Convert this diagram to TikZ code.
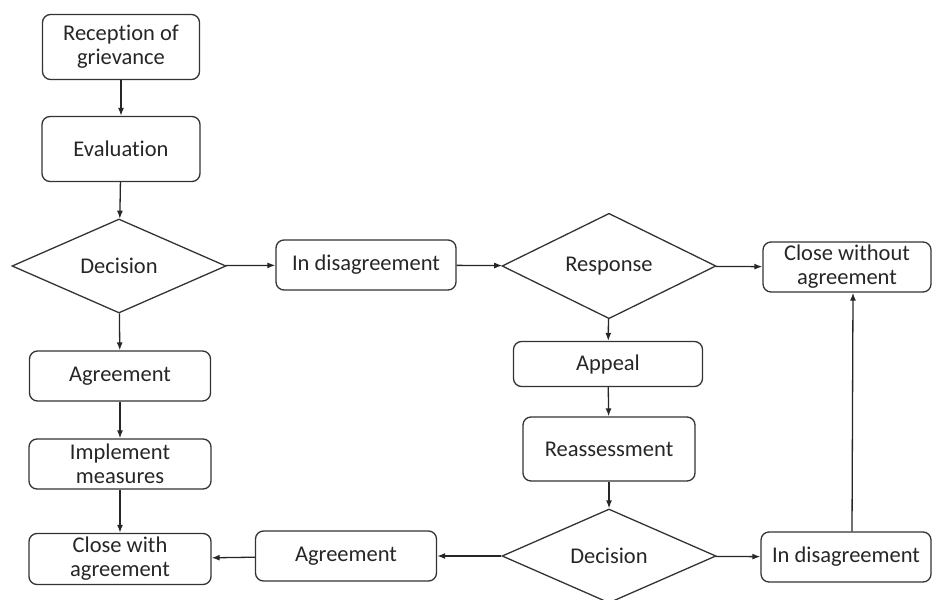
\documentclass[tikz,border=0pt]{standalone}
\usepackage{fontspec}
\setmainfont{Carlito}[Ligatures=NoCommon]
\usetikzlibrary{shapes.geometric}
\usetikzlibrary{arrows.meta}
\tikzset{%
  arr/.style = {-{Latex[length=8pt,width=6pt]}, line width=1.3pt, draw=black!85},
  rb/.style = {rectangle, draw=black!80, rounded corners=8pt, line width=1.3pt,
        align=center, inner sep=0pt, text=black!85,
        font=\fontsize{22.5}{24}\selectfont},
  dm/.style = {diamond, draw=black!80, line width=1.3pt, inner sep=0pt,
        text=black!85, font=\fontsize{22.5}{24}\selectfont,
        minimum width=214pt, minimum height=94pt}
}

\begin{document}
\begin{tikzpicture}[x=1pt,y=-1pt]
    \useasboundingbox (0,0) rectangle (933,599);
    % left column
    \node[rb, minimum width=157pt, minimum height=65pt] (rec) at (121,47) {Reception of\\grievance};
    \node[rb, minimum width=158pt, minimum height=65pt] (eval) at (121,149) {Evaluation};
    \node[dm] (dec) at (119,266) {Decision};
    \node[rb, minimum width=181pt, minimum height=50pt] (agree) at (120,376) {Agreement};
    \node[rb, minimum width=182pt, minimum height=50pt] (impl) at (120,464) {Implement\\measures};
    \node[rb, minimum width=182pt, minimum height=51pt] (closew) at (120,559) {Close with\\agreement};
    % top row
    \node[rb, minimum width=180pt, minimum height=50pt] (disag) at (366,265) {In disagreement};
    \node[dm] (resp) at (609,266) {Response};
    \node[rb, minimum width=168pt, minimum height=50pt] (closewo) at (847,267) {Close without\\agreement};
    % appeal column
    \node[rb, minimum width=189pt, minimum height=45pt] (appeal) at (608,364) {Appeal};
    \node[rb, minimum width=172pt, minimum height=64pt] (reass) at (609,449) {Reassessment};
    \node[dm] (dec2) at (609,556) {Decision};
    \node[rb, minimum width=181pt, minimum height=50pt] (agree2) at (346,556) {Agreement};
    \node[rb, minimum width=170pt, minimum height=50pt] (disag2) at (846,557) {In disagreement};

    \draw[arr] (rec) -- (eval);
    \draw[arr] (eval) -- (dec);
    \draw[arr] (dec) -- (agree);
    \draw[arr] (agree) -- (impl);
    \draw[arr] (impl) -- (closew);
    \draw[arr] (dec) -- (disag);
    \draw[arr] (disag) -- (resp);
    \draw[arr] (resp) -- (closewo);
    \draw[arr] (resp) -- (appeal);
    \draw[arr] (appeal) -- (reass);
    \draw[arr] (reass) -- (dec2);
    \draw[arr] (dec2) -- (agree2);
    \draw[arr] (agree2) -- (closew);
    \draw[arr] (dec2) -- (disag2);
    \draw[arr] ([xshift=6pt]disag2.north) -- ([xshift=6pt]closewo.south);
\end{tikzpicture}
\end{document}
